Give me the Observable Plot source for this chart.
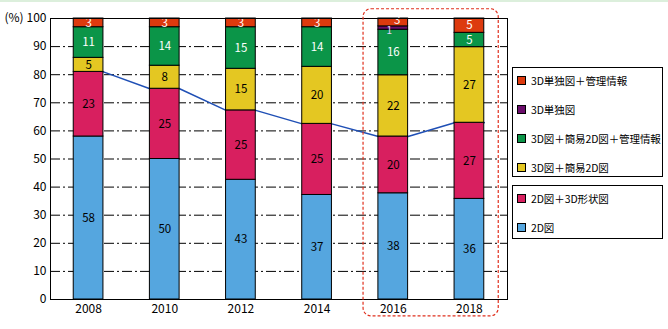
<!DOCTYPE html>
<html><head><meta charset="utf-8">
<script src="https://cdn.jsdelivr.net/npm/d3@7"></script>
<script src="https://cdn.jsdelivr.net/npm/@observablehq/plot@0.6"></script>
<style>
body{margin:0;background:#fff;}
#wrap{position:relative;width:668px;height:329px;overflow:hidden;}
#topline{position:absolute;left:0;top:0;width:668px;height:2px;background:#dcefdc;}
.lg{position:absolute;border:1px solid #000;background:#fff;font:10.5px "Noto Sans CJK JP",sans-serif;letter-spacing:-0.1px;color:#000;box-sizing:border-box;}
.it{position:absolute;left:4px;display:flex;align-items:center;white-space:nowrap;height:14px;}
.sw{width:7px;height:7px;border:1px solid #000;margin-right:5px;flex:none;}
</style>
</head><body>
<div id="wrap"><div id="topline"></div></div>
<script>
const years = [2008, 2010, 2012, 2014, 2016, 2018];
const seriesNames = ["2D図", "2D図＋3D形状図", "3D図＋簡易2D図", "3D図＋簡易2D図＋管理情報", "3D単独図", "3D単独図＋管理情報"];
const v2D        = [58, 50, 42.6, 37.2, 37.8, 35.8];
const v2D3D      = [23, 25, 24.7, 25.3, 20.2, 27.1];
const v3D2D      = [5, 8.2, 14.8, 20.3, 21.8, 26.9];
const v3D2DInfo  = [10.9, 13.7, 14.8, 14.1, 16.2, 5.1];
const v3DOnly    = [0, 0, 0, 0, 1.2, 0];
const v3DOnlyInf = [3.1, 3.1, 3.1, 3.1, 2.8, 5.1];
const seriesValues = [v2D, v2D3D, v3D2D, v3D2DInfo, v3DOnly, v3DOnlyInf];
const colors = ["#55a6df", "#d81f5f", "#e4c722", "#0b9548", "#6b0d6b", "#dd3a0e"];
const labelColors = ["#000", "#000", "#000", "#fff", "#e4d4ff", "#fff"];
const yTicks = [0, 10, 20, 30, 40, 50, 60, 70, 80, 90, 100];
const gridTicks = [10, 20, 30, 40, 50, 60, 70, 80, 90];
const highlightYears = [2016, 2018];
const legendGroups = [[5, 4, 3, 2], [1, 0]];

const half = 0.39;
const stack = [];
years.forEach((yr, i) => {
  let acc = 0;
  seriesValues.forEach((vals, s) => {
    const v = vals[i];
    // small top segments sit beside a thin purple one: nudge labels apart
    const crowded = v3DOnly[i] > 0;
    const dx = crowded ? (s === 4 ? -4 : s === 5 ? 4 : 0) : 0;
    const dy = crowded ? (s === 4 ? 3 : s === 5 ? -2 : 0) : 0;
    stack.push({year: yr, s, value: v, y1: acc, y2: acc + v, dx, dy});
    acc += v;
  });
});
const linePts = [];
years.forEach((yr, i) => {
  const top = v2D[i] + v2D3D[i];
  linePts.push({x: yr - half, y: top}, {x: yr + half, y: top});
});

const labelMarks = [];
stack.filter(d => d.value > 0).forEach(d => {
  labelMarks.push(Plot.text([d], {
    x: "year", y: e => (e.y1 + e.y2) / 2, text: e => String(Math.round(e.value)),
    fill: labelColors[d.s], fontSize: d.s === 4 ? 10 : 11.5, dx: d.dx, dy: d.dy
  }));
});

const chart = Plot.plot({
  width: 668, height: 329,
  marginLeft: 50, marginRight: 161, marginTop: 18, marginBottom: 30,
  x: {type: "linear", domain: [2007, 2019]},
  y: {domain: [0, 100]},
  style: {fontFamily: "'Noto Sans CJK JP', sans-serif", fontSize: "12px", color: "#000", background: "transparent", overflow: "visible"},
  marks: [
    Plot.ruleY(gridTicks, {stroke: "#000", strokeWidth: 1, strokeDasharray: "10,3,2,3"}),
    Plot.line(linePts, {x: "x", y: "y", stroke: "#1f4fb5", strokeWidth: 1.5}),
    Plot.rect(stack.filter(d => d.value > 0), {
      x1: d => d.year - half, x2: d => d.year + half, y1: "y1", y2: "y2",
      fill: d => colors[d.s], stroke: "#000", strokeWidth: 1
    }),
    ...labelMarks,
    Plot.frame({stroke: "#000", strokeWidth: 1}),
    Plot.axisY({ticks: yTicks, tickSize: 0, tickPadding: 4, label: null, fontSize: 12}),
    Plot.axisX({ticks: years, tickSize: 0, tickPadding: 5, tickFormat: d => String(d), label: null, fontSize: 12}),
    Plot.text(["(%)"], {x: 2007, y: 100, dx: -46, textAnchor: "start", fontSize: 12}),
    Plot.rect([highlightYears], {
      x1: d => d[0] - 0.78, x2: d => d[1] + 0.77, y1: -6, y2: 103.3,
      rx: 8, fill: "none", stroke: "#e0301e", strokeWidth: 1.2, strokeDasharray: "3,2", clip: false
    })
  ]
});
const wrap = document.getElementById("wrap");
chart.style.position = "absolute";
chart.style.left = "0";
chart.style.top = "0";
wrap.appendChild(chart);

const boxes = [{top: 67, height: 110}, {top: 185, height: 54}];
legendGroups.forEach((grp, gi) => {
  const box = document.createElement("div");
  box.className = "lg";
  box.style.left = "512px";
  box.style.top = boxes[gi].top + "px";
  box.style.width = "151px";
  box.style.height = boxes[gi].height + "px";
  grp.forEach((s, k) => {
    const it = document.createElement("div");
    it.className = "it";
    it.style.top = (5 + k * 29.3) + "px";
    const sw = document.createElement("span");
    sw.className = "sw";
    sw.style.background = colors[s];
    const tx = document.createElement("span");
    tx.textContent = seriesNames[s];
    it.appendChild(sw); it.appendChild(tx);
    box.appendChild(it);
  });
  wrap.appendChild(box);
});
</script>
</body></html>
